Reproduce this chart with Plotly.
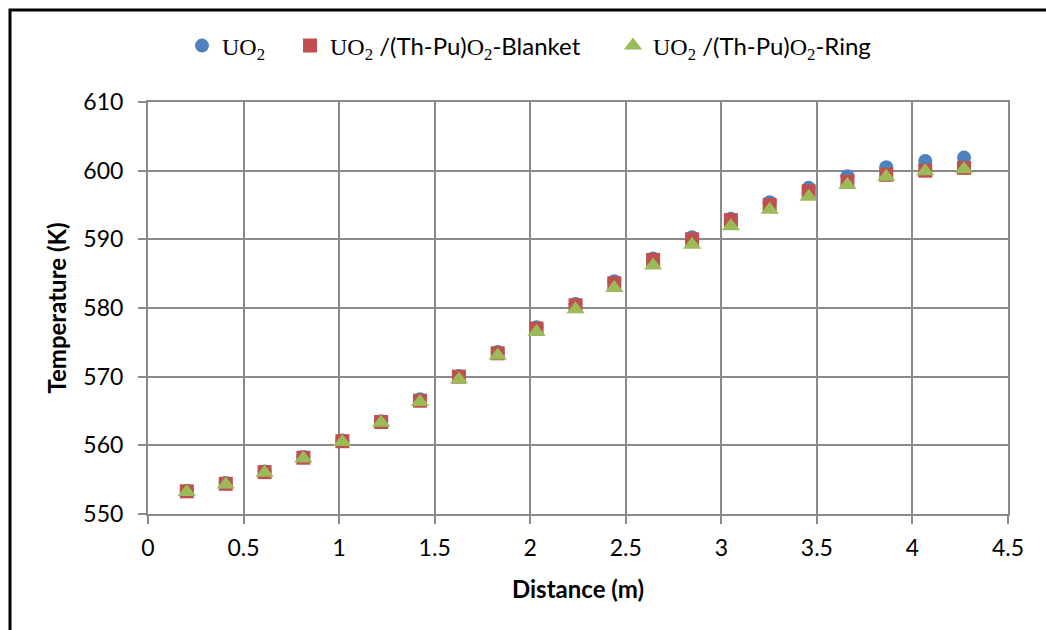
import plotly.graph_objects as go

distance_m = [0.203, 0.407, 0.610, 0.813, 1.017, 1.220, 1.423, 1.627, 1.830, 2.033, 2.237,
              2.440, 2.643, 2.847, 3.050, 3.253, 3.457, 3.660, 3.863, 4.067, 4.270]
temp_uo2 = [553.4, 554.5, 556.2, 558.3, 560.7, 563.5, 566.7, 570.1, 573.6, 577.2, 580.6,
            583.9, 587.2, 590.3, 593.0, 595.4, 597.5, 599.2, 600.5, 601.4, 601.9]
temp_blanket = [553.3, 554.4, 556.1, 558.2, 560.6, 563.4, 566.5, 570.0, 573.4, 577.0, 580.4,
                583.6, 587.0, 590.0, 592.8, 595.0, 597.0, 598.4, 599.4, 600.0, 600.4]
temp_ring = [553.2, 554.3, 556.0, 558.1, 560.5, 563.3, 566.3, 569.6, 573.1, 576.5, 579.8,
             582.9, 586.2, 589.2, 591.9, 594.3, 596.2, 597.9, 599.1, 599.9, 600.2]

x_ticks = [0, 0.5, 1, 1.5, 2, 2.5, 3, 3.5, 4, 4.5]
x_tick_labels = ["0", "0.5", "1", "1.5", "2", "2.5", "3", "3.5", "4", "4.5"]
y_ticks = [550, 560, 570, 580, 590, 600, 610]

SERIF = "Liberation Serif"
names = [
    f'<span style="font-family:{SERIF}">UO<sub>2</sub></span>',
    f'<span style="font-family:{SERIF}">UO<sub>2</sub></span> /(Th-Pu)<span style="font-family:{SERIF}">O<sub>2</sub></span>-Blanket',
    f'<span style="font-family:{SERIF}">UO<sub>2</sub></span> /(Th-Pu)<span style="font-family:{SERIF}">O<sub>2</sub></span>-Ring',
]

W, H = 1046, 630
L, R, T, B = 148, 1008, 102, 514


def px(xp):
    return (xp - L) / (R - L)


def py(yp):
    return (B - yp) / (B - T)


fig = go.Figure()
fig.add_trace(go.Scatter(x=distance_m, y=temp_uo2, mode="markers", name=names[0],
                         marker=dict(symbol="circle", size=14, color="#4F81BD"),
                         legend="legend"))
fig.add_trace(go.Scatter(x=distance_m, y=temp_blanket, mode="markers", name=names[1],
                         marker=dict(symbol="square", size=14, color="#C0504D"),
                         legend="legend2"))
fig.add_trace(go.Scatter(x=distance_m, y=temp_ring, mode="markers", name=names[2],
                         marker=dict(symbol="triangle-up", size=16, color="#9BBB59"),
                         legend="legend3"))

leg_common = dict(orientation="h", yanchor="middle", xanchor="left",
                  bgcolor="rgba(0,0,0,0)", font=dict(family="Lato", size=24, color="#000000"))
fig.update_layout(
    legend=dict(x=px(207 - 25), y=py(46), **leg_common),
    legend2=dict(x=px(315 - 25), y=py(46), **leg_common),
    legend3=dict(x=px(638 - 25), y=py(46), **leg_common),
)

grid = "#8A8A8A"
fig.update_xaxes(range=[0, 4.5], tickvals=x_ticks, ticktext=x_tick_labels,
                 showgrid=True, gridcolor=grid, gridwidth=2,
                 showline=True, linecolor=grid, linewidth=2, mirror=True,
                 ticks="outside", ticklen=8, tickcolor=grid, tickwidth=2,
                 ticklabelstandoff=4,
                 tickfont=dict(family="Lato", size=23, color="#000"),
                 title=dict(text="<b>Distance (m)</b>", font=dict(family="Lato", size=24, color="#000"),
                            standoff=22),
                 zeroline=False)
fig.update_yaxes(range=[550, 610], tickvals=y_ticks,
                 showgrid=True, gridcolor=grid, gridwidth=2,
                 showline=True, linecolor=grid, linewidth=2, mirror=True,
                 ticks="outside", ticklen=8, tickcolor=grid, tickwidth=2,
                 ticklabelstandoff=10,
                 tickfont=dict(family="Lato", size=23, color="#000"),
                 title=dict(text="<b>Temperature (K)</b>", font=dict(family="Lato", size=24, color="#000"),
                            standoff=10),
                 zeroline=False)

fig.add_shape(type="rect", xref="paper", yref="paper",
              x0=px(10), x1=px(1060), y0=py(650), y1=py(10),
              line=dict(color="#000000", width=3), fillcolor="rgba(0,0,0,0)", layer="above")

fig.update_layout(width=W, height=H, autosize=False,
                  margin=dict(l=L, r=W - R, t=T, b=H - B, autoexpand=False),
                  paper_bgcolor="white", plot_bgcolor="white", showlegend=True)

fig.write_html("out.html")
